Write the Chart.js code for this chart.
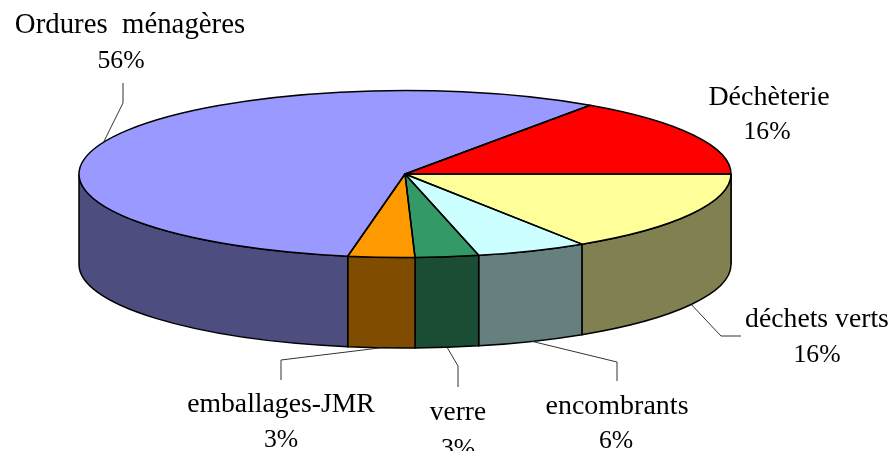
<!DOCTYPE html>
<html><head><meta charset="utf-8">
<style>html,body{margin:0;padding:0;background:#fff;overflow:hidden}canvas{display:block}</style>
<script src="https://cdn.jsdelivr.net/npm/chart.js@4"></script>
</head><body><canvas id="c" width="892" height="451"></canvas>
<script>
const categories = ['Déchèterie','déchets verts','encombrants','verre','emballages-JMR','Ordures  ménagères'];
const values = [15.4,15.86,5.5,3.14,3.3,56.8];
const percentLabels = ['16%','16%','6%','3%','3%','56%'];
const topColors = ['#FF0000','#FFFF99','#CCFFFF','#339966','#FF9900','#9999FF'];
const wallColors = ['#800000','#808050','#668080','#1A4D33','#804D00','#4D4D80'];

const view = {cx:405, cy:174, rx:326, ry:83.5, depth:90.5};
// label placement: [name x, name baseline, percent x, percent baseline]
const labelPlace = [[769,105,767,139],[817,327,817,362],[617,414,616,448],[458,420,458,456],[281,412,281,447],[130,33,121,68]];
const nameFontPx = [28,27.7,28,27.4,27.7,28.8];
const percentFontPx = 25.7;
// leader lines: knee and end points; first point comes from the slice's mid-angle
const leaderPlace = [null,[[721,336],[741,336]],[[617,362],[617,381]],[[458,366],[458,387]],[[281,360],[281,380]],[[123,103],[123,83]]];

function rimPoint(a){return [view.cx+view.rx*Math.cos(a), view.cy+view.ry*Math.sin(a)];}

const pie3d = {
  id:'pie3d',
  beforeDatasetsDraw(chart){
    const ctx=chart.ctx, arcs=chart.getDatasetMeta(0).data;
    // side wall
    arcs.forEach((arc,i)=>{
      const a=Math.max(arc.startAngle,0), b=Math.min(arc.endAngle,Math.PI);
      if(b<=a) return;
      ctx.beginPath();
      ctx.ellipse(view.cx,view.cy,view.rx,view.ry,0,a,b);
      ctx.ellipse(view.cx,view.cy+view.depth,view.rx,view.ry,0,b,a,true);
      ctx.closePath();
      ctx.fillStyle=wallColors[i];
      ctx.fill();
      ctx.strokeStyle='#000';ctx.lineWidth=1.5;ctx.stroke();
    });
    // squash the library's arcs into the ellipse
    const p=arcs[0];
    ctx.save();
    ctx.translate(view.cx,view.cy);
    ctx.scale(view.rx/p.outerRadius,view.ry/p.outerRadius);
    ctx.translate(-p.x,-p.y);
  },
  afterDatasetsDraw(chart){
    const ctx=chart.ctx, arcs=chart.getDatasetMeta(0).data;
    ctx.restore();
    ctx.strokeStyle='#000';ctx.lineWidth=1.5;ctx.lineJoin='round';
    arcs.forEach(arc=>{
      ctx.beginPath();
      ctx.moveTo(view.cx,view.cy);
      ctx.ellipse(view.cx,view.cy,view.rx,view.ry,0,arc.startAngle,arc.endAngle);
      ctx.closePath();
      ctx.stroke();
    });
  },
  afterDraw(chart){
    const ctx=chart.ctx, arcs=chart.getDatasetMeta(0).data;
    ctx.save();
    ctx.strokeStyle='#333';ctx.lineWidth=1;
    arcs.forEach((arc,i)=>{
      const l=leaderPlace[i]; if(!l) return;
      const mid=(arc.startAngle+arc.endAngle)/2;
      let m=mid%(2*Math.PI); if(m<0)m+=2*Math.PI;
      const [x,y0]=rimPoint(mid);
      const y=y0+(m<Math.PI?view.depth:0);
      ctx.beginPath();ctx.moveTo(x,y);
      l.forEach(q=>ctx.lineTo(q[0],q[1]));
      ctx.stroke();
    });
    ctx.fillStyle='#000';
    ctx.textAlign='center';ctx.textBaseline='alphabetic';
    categories.forEach((c,i)=>{
      const p=labelPlace[i];
      ctx.font=nameFontPx[i]+'px "Liberation Serif"';
      ctx.fillText(c,p[0],p[1]);
      ctx.font=percentFontPx+'px "Liberation Serif"';
      ctx.fillText(percentLabels[i],p[2],p[3]);
    });
    ctx.restore();
  }
};

new Chart(document.getElementById('c'),{
  type:'pie',
  data:{labels:categories,datasets:[{data:values,backgroundColor:topColors,borderWidth:0}]},
  options:{
    responsive:false,animation:false,rotation:34.6,
    layout:{padding:0},
    plugins:{legend:{display:false},tooltip:{enabled:false}},
    events:[]
  },
  plugins:[pie3d]
});
</script></body></html>
